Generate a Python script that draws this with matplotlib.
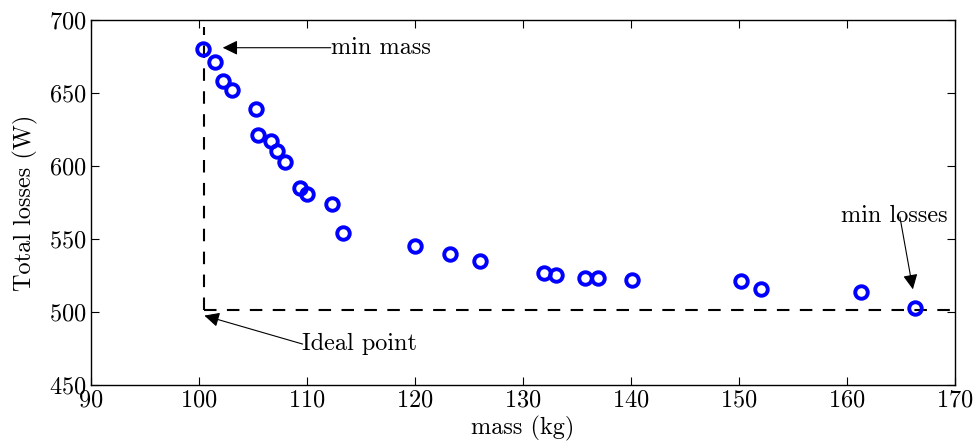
import matplotlib
matplotlib.use('Agg')
import matplotlib.pyplot as plt

plt.rcParams['font.family'] = 'serif'
plt.rcParams['font.serif'] = ['cmr10', 'DejaVu Serif']
plt.rcParams['mathtext.fontset'] = 'cm'
plt.rcParams['axes.formatter.use_mathtext'] = True

mass = [100.4, 101.5, 102.2, 103.1, 105.3, 105.5, 106.7, 107.2, 108.0,
        109.4, 110.0, 112.3, 113.3, 120.0, 123.2, 126.0, 131.9, 133.1,
        135.7, 136.9, 140.1, 150.2, 152.0, 161.3, 166.3]
losses = [680, 671, 658, 652, 639, 621, 617, 610, 603,
          585, 581, 574, 554, 545, 540, 535, 527, 525,
          523, 523, 522, 521, 516, 514, 503]

ideal_mass = 100.45
ideal_loss = 501.5

fs = 17.5

fig = plt.figure(figsize=(9.78, 4.44), dpi=100)
ax = fig.add_axes([0.093, 0.133, 0.8835, 0.822])

ax.plot([ideal_mass, ideal_mass], [ideal_loss, 695], 'k--', lw=1.5, dashes=(6, 5))
ax.plot([ideal_mass, 170], [ideal_loss, ideal_loss], 'k--', lw=1.5, dashes=(6, 5))
ax.plot(mass, losses, 'o', mfc='none', mec='blue', ms=9, mew=2.8)

arrow = dict(arrowstyle='-|>,head_length=0.45,head_width=0.22', color='black',
             lw=0.8, mutation_scale=20, shrinkA=0, shrinkB=0)

# min mass
ax.annotate('', xy=(102.2, 681), xytext=(112.2, 681), arrowprops=arrow)
ax.text(112.2, 681, 'min mass', fontsize=fs, va='center', ha='left')

# min losses
ax.annotate('', xy=(166.1, 515.5), xytext=(164.9, 565), arrowprops=arrow)
ax.text(169.3, 561.5, 'min losses', fontsize=fs, va='baseline', ha='right')

# ideal point
ax.annotate('', xy=(100.5, 497.5), xytext=(109.6, 478), arrowprops=arrow)
ax.text(109.5, 478, 'Ideal point', fontsize=fs, va='center', ha='left')

ax.set_xlim(90, 170)
ax.set_ylim(450, 700)
ax.set_xticks(range(90, 171, 10))
ax.set_yticks(range(450, 701, 50))
ax.tick_params(direction='in', top=True, right=True, labelsize=fs, length=6, pad=3)
ax.set_xlabel('mass (kg)', fontsize=fs, labelpad=3)
ax.set_ylabel('Total losses (W)', fontsize=fs, labelpad=8)
for s in ax.spines.values():
    s.set_linewidth(1.0)

fig.savefig('out.png', dpi=100)
